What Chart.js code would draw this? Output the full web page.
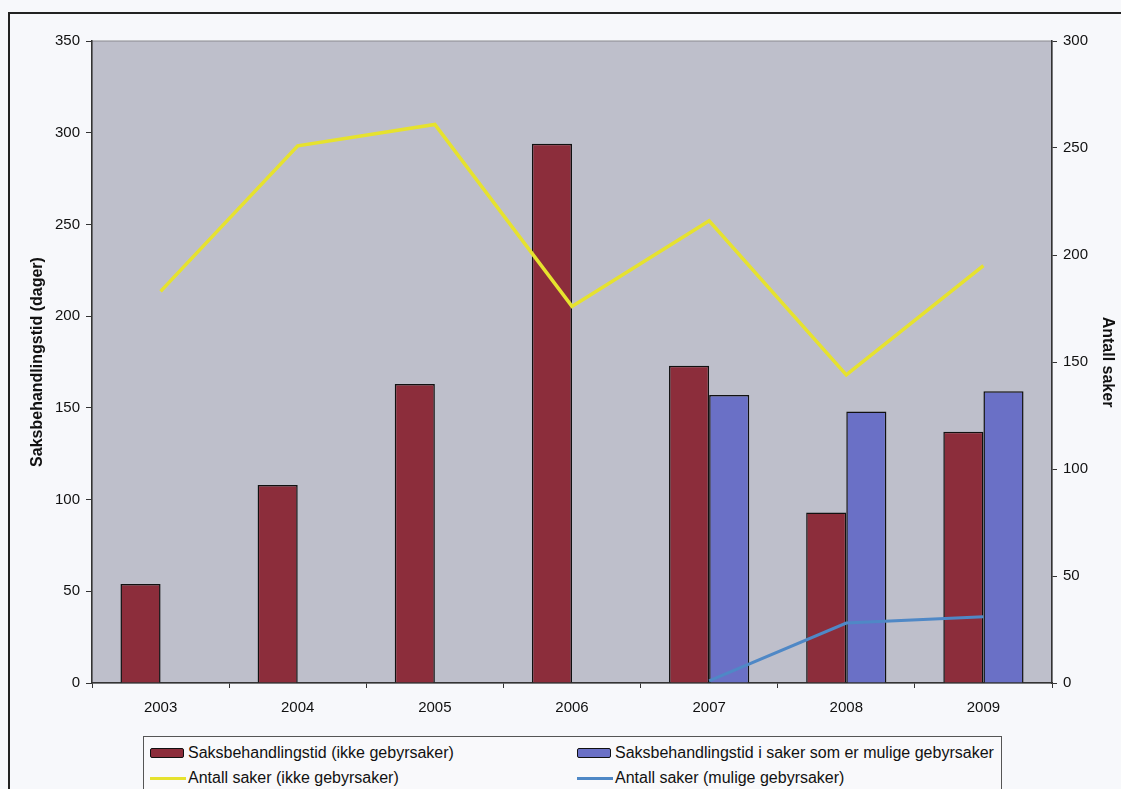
<!DOCTYPE html>
<html>
<head>
<meta charset="utf-8">
<script src="https://cdn.jsdelivr.net/npm/chart.js@4/dist/chart.umd.min.js"></script>
<style>
  html, body { margin: 0; padding: 0; background: #f7f8fb; }
  #wrap { position: relative; width: 1121px; height: 789px; overflow: hidden; }
  #legend {
    position: absolute; left: 143px; top: 736px; width: 857px; height: 70px;
    border: 1px solid #555; background: #f9f9fb;
    font-family: "Liberation Sans", Arial, sans-serif; font-size: 16px; line-height: 18px; color: #111;
  }
  .item { position: absolute; display: flex; align-items: center; white-space: nowrap; }
  .box { width: 32px; height: 8px; border: 1.5px solid #111; border-radius: 2px; margin-right: 4px; }
  .line { width: 36px; height: 3px; margin-right: 2px; }
</style>
</head>
<body>
<div id="wrap">
  <canvas id="myChart" width="1121" height="789"></canvas>
  <div id="legend"></div>
</div>
<script>
const years = ["2003", "2004", "2005", "2006", "2007", "2008", "2009"];
const tidIkkeGebyr = [54, 108, 163, 294, 173, 93, 137];
const tidMuligeGebyr = [null, null, null, null, 157, 148, 159];
const antallIkkeGebyr = [183, 251, 261, 176, 216, 144, 195];
const antallMuligeGebyr = [null, null, null, null, 1, 28, 31];

const red = "#8c2d3b";
const blue = "#6a70c6";
const yellow = "#e6e22e";
const lineBlue = "#4f88c6";

// grey plot area + frame
const plotBg = {
  id: "plotBg",
  beforeDraw(chart) {
    const { ctx, chartArea: a } = chart;
    ctx.save();
    ctx.fillStyle = "#bebfcb";
    ctx.fillRect(a.left, a.top, a.right - a.left, a.bottom - a.top);
    ctx.strokeStyle = "#8a8a90";
    ctx.lineWidth = 1;
    ctx.strokeRect(a.left, a.top, a.right - a.left, a.bottom - a.top);
    ctx.strokeStyle = "#222";
    ctx.lineWidth = 2;
    ctx.beginPath();
    ctx.moveTo(9, 789);
    ctx.lineTo(9, 13);
    ctx.lineTo(1121, 13);
    ctx.stroke();
    ctx.restore();
  }
};

try {
  const ctx = document.getElementById("myChart").getContext("2d");
  const myChart = new Chart(ctx, {
    type: "bar",
    data: {
      labels: years,
      datasets: [
        {
          type: "line",
          label: "Antall saker (ikke gebyrsaker)",
          data: antallIkkeGebyr,
          yAxisID: "y1",
          borderColor: yellow,
          borderWidth: 3.5,
          pointRadius: 0,
          tension: 0,
          order: 0,
        },
        {
          type: "line",
          label: "Antall saker (mulige gebyrsaker)",
          data: antallMuligeGebyr,
          yAxisID: "y1",
          borderColor: lineBlue,
          borderWidth: 3,
          pointRadius: 0,
          tension: 0,
          order: 0,
        },
        {
          label: "Saksbehandlingstid (ikke gebyrsaker)",
          data: tidIkkeGebyr,
          yAxisID: "y",
          backgroundColor: red,
          borderColor: "#111",
          borderWidth: 1.5,
          categoryPercentage: 0.585,
          barPercentage: 1,
          order: 1,
        },
        {
          label: "Saksbehandlingstid i saker som er mulige gebyrsaker",
          data: tidMuligeGebyr,
          yAxisID: "y",
          backgroundColor: blue,
          borderColor: "#111",
          borderWidth: 1.5,
          categoryPercentage: 0.585,
          barPercentage: 1,
          order: 2,
        },
      ],
    },
    options: {
      responsive: false,
      animation: false,
      layout: { padding: { top: 41, left: 0, right: 0, bottom: 0 } },
      plugins: { legend: { display: false }, tooltip: { enabled: false } },
      scales: {
        x: {
          afterFit: (s) => { s.height = 106; },
          grid: { drawOnChartArea: false, color: "#333", tickLength: 5, offset: true },
          border: { color: "#333", width: 1.5 },
          ticks: { color: "#111", padding: 11, font: { family: "Liberation Sans", size: 15 } },
        },
        y: {
          position: "left",
          min: 0, max: 350,
          afterFit: (s) => { s.width = 92; },
          ticks: { stepSize: 50, color: "#111", padding: 6, font: { family: "Liberation Sans", size: 15 } },
          grid: { drawOnChartArea: false, color: "#333", tickLength: 6 },
          border: { color: "#333", width: 1.5 },
          title: {
            display: true, text: "Saksbehandlingstid (dager)", color: "#111",
            padding: { top: 28, bottom: 0 },
            font: { family: "Liberation Sans", size: 16, weight: "bold" },
          },
        },
        y1: {
          position: "right",
          min: 0, max: 300,
          afterFit: (s) => { s.width = 69; },
          ticks: { stepSize: 50, color: "#111", padding: 6, font: { family: "Liberation Sans", size: 15 } },
          grid: { drawOnChartArea: false, color: "#333", tickLength: 5 },
          border: { color: "#333", width: 1.5 },
          title: {
            display: true, text: "Antall saker", color: "#111",
            padding: { top: 4, bottom: 0 },
            font: { family: "Liberation Sans", size: 16, weight: "bold" },
          },
        },
      },
    },
    plugins: [plotBg],
  });

  // legend, 2x2 like the original
  const legend = document.getElementById("legend");
  const spots = { 2: [6, 7], 3: [433, 7], 0: [6, 32], 1: [433, 32] };
  myChart.data.datasets.forEach((ds, i) => {
    const el = document.createElement("div");
    el.className = "item";
    el.style.left = spots[i][0] + "px";
    el.style.top = spots[i][1] + "px";
    const sw = document.createElement("span");
    if (ds.type === "line") {
      sw.className = "line";
      sw.style.background = ds.borderColor;
    } else {
      sw.className = "box";
      sw.style.background = ds.backgroundColor;
    }
    el.appendChild(sw);
    el.appendChild(document.createTextNode(ds.label));
    legend.appendChild(el);
  });
} catch (error) {
  console.log(error);
}
</script>
</body>
</html>
